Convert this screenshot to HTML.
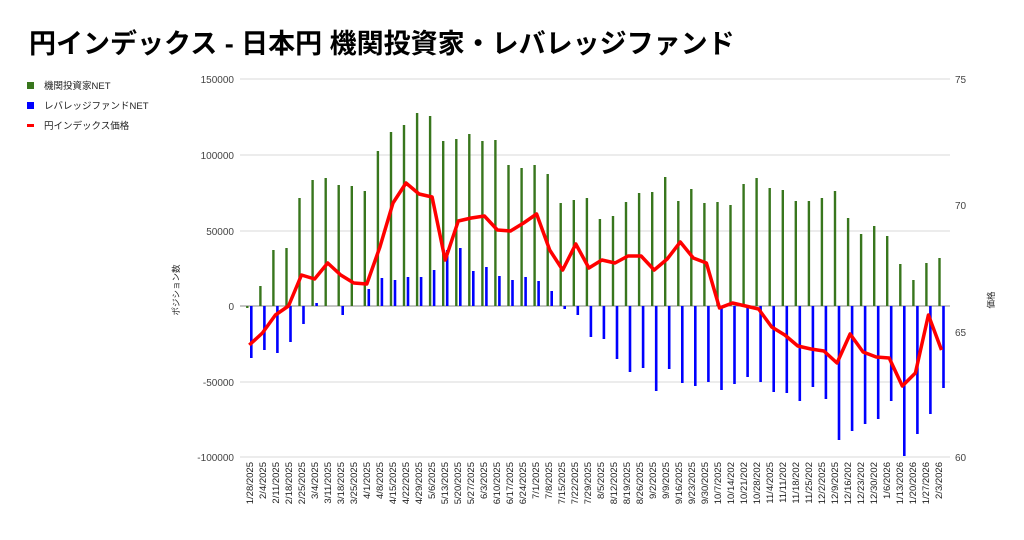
<!DOCTYPE html>
<html><head><meta charset="utf-8"><style>
html,body{margin:0;padding:0;background:#fff;}
svg{display:block;font-family:"Liberation Sans","Noto Sans CJK JP",sans-serif;}
</style></head><body>
<svg width="1024" height="540" viewBox="0 0 1024 540" xmlns="http://www.w3.org/2000/svg">
<rect width="1024" height="540" fill="#fff"/>
<text x="29" y="53" font-size="27" font-weight="bold" fill="#000">円インデックス - 日本円 機関投資家・レバレッジファンド</text>
<rect x="27" y="82" width="7" height="7" fill="#38761d"/>
<text x="44" y="89" font-size="9.5" fill="#222">機関投資家NET</text>
<rect x="27" y="102" width="7" height="7" fill="#0000ff"/>
<text x="44" y="109" font-size="9.5" fill="#222">レバレッジファンドNET</text>
<rect x="27" y="124" width="7" height="3" fill="#ff0000"/>
<text x="44" y="129" font-size="9.5" fill="#222">円インデックス価格</text>
<g stroke="#d9d9d9" stroke-width="1">
<line x1="240" y1="79" x2="950" y2="79"/><line x1="240" y1="155" x2="950" y2="155"/>
<line x1="240" y1="231" x2="950" y2="231"/><line x1="240" y1="382" x2="950" y2="382"/>
<line x1="240" y1="457" x2="950" y2="457"/>
</g>
<line x1="240" y1="306" x2="950" y2="306" stroke="#888" stroke-width="1"/>
<g font-size="10" fill="#444" text-anchor="end">
<text x="234" y="83">150000</text><text x="234" y="159">100000</text><text x="234" y="235">50000</text>
<text x="234" y="310">0</text><text x="234" y="386">-50000</text><text x="234" y="461">-100000</text>
</g>
<g font-size="10" fill="#444">
<text x="955" y="83">75</text><text x="955" y="209">70</text><text x="955" y="336">65</text><text x="955" y="461">60</text>
</g>
<text transform="translate(179,290) rotate(-90)" font-size="8.5" fill="#222" text-anchor="middle">ポジション数</text>
<text transform="translate(994,300) rotate(-90)" font-size="8.5" fill="#222" text-anchor="middle">価格</text>
<path fill="none" stroke="#38761d" stroke-width="2.4" d="M247.3 306V308M260.4 306V286M273.4 306V250M286.5 306V248M299.5 306V198M312.6 306V180M325.7 306V178M338.7 306V185M351.8 306V186M364.8 306V191M377.9 306V151M391 306V132M404 306V125M417.1 306V113M430.1 306V116M443.2 306V141M456.3 306V139M469.3 306V134M482.4 306V141M495.4 306V140M508.5 306V165M521.6 306V168M534.6 306V165M547.7 306V174M560.7 306V203M573.8 306V200M586.9 306V198M599.9 306V219M613 306V216M626 306V202M639.1 306V193M652.2 306V192M665.2 306V177M678.3 306V201M691.3 306V189M704.4 306V203M717.5 306V202M730.5 306V205M743.6 306V184M756.6 306V178M769.7 306V188M782.8 306V190M795.8 306V201M808.9 306V201M821.9 306V198M835 306V191M848.1 306V218M861.1 306V234M874.2 306V226M887.2 306V236M900.3 306V264M913.4 306V280M926.4 306V263M939.5 306V258"/>
<path fill="none" stroke="#0000ff" stroke-width="2.6" d="M251.3 306V358M264.4 306V350M277.4 306V353M290.5 306V342M303.5 306V324M316.6 306V303M342.7 306V315M368.8 306V289M381.9 306V278M395 306V280M408 306V277M421.1 306V277M434.1 306V270M447.2 306V250M460.3 306V248M473.3 306V271M486.4 306V267M499.4 306V276M512.5 306V280M525.6 306V277M538.6 306V281M551.7 306V291M564.7 306V309M577.8 306V315M590.9 306V337M603.9 306V339M617 306V359M630 306V372M643.1 306V368M656.2 306V391M669.2 306V369M682.3 306V383M695.3 306V386M708.4 306V382M721.5 306V390M734.5 306V384M747.6 306V377M760.6 306V382M773.7 306V392M786.8 306V393M799.8 306V401M812.9 306V387M825.9 306V399M839 306V440M852.1 306V431M865.1 306V424M878.2 306V419M891.2 306V401M904.3 306V456M917.4 306V434M930.4 306V414M943.5 306V388"/>
<polyline fill="none" stroke="#ff0000" stroke-width="3.5" stroke-linejoin="round" points="249.3,345 262.4,333 275.4,315 288.5,306 301.5,275 314.6,279 327.7,263 340.7,275 353.8,283 366.8,284 379.9,247 393,203 406,183 419.1,194 432.1,197 445.2,260 458.3,221 471.3,218 484.4,216 497.4,230 510.5,231 523.6,223 536.6,214 549.7,250 562.7,270 575.8,244 588.9,268 601.9,260 615,263 628,256 641.1,256 654.2,270 667.2,259 680.3,242 693.3,258 706.4,263 719.5,308 732.5,303 745.6,306 758.6,309 771.7,327 784.8,335 797.8,346 810.9,349 823.9,351 837,363 850.1,334 863.1,352 876.2,357 889.2,358 902.3,386 915.4,373 928.4,315 941.5,350"/>
<g font-size="9.5" fill="#222" text-anchor="end">
<text transform="translate(253,462) rotate(-90)">1/28/2025</text>
<text transform="translate(266,462) rotate(-90)">2/4/2025</text>
<text transform="translate(279,462) rotate(-90)">2/11/2025</text>
<text transform="translate(292,462) rotate(-90)">2/18/2025</text>
<text transform="translate(305,462) rotate(-90)">2/25/2025</text>
<text transform="translate(318,462) rotate(-90)">3/4/2025</text>
<text transform="translate(331,462) rotate(-90)">3/11/2025</text>
<text transform="translate(344,462) rotate(-90)">3/18/2025</text>
<text transform="translate(357,462) rotate(-90)">3/25/2025</text>
<text transform="translate(370,462) rotate(-90)">4/1/2025</text>
<text transform="translate(383,462) rotate(-90)">4/8/2025</text>
<text transform="translate(396,462) rotate(-90)">4/15/2025</text>
<text transform="translate(409,462) rotate(-90)">4/22/2025</text>
<text transform="translate(422,462) rotate(-90)">4/29/2025</text>
<text transform="translate(435,462) rotate(-90)">5/6/2025</text>
<text transform="translate(448,462) rotate(-90)">5/13/2025</text>
<text transform="translate(461,462) rotate(-90)">5/20/2025</text>
<text transform="translate(474,462) rotate(-90)">5/27/2025</text>
<text transform="translate(487,462) rotate(-90)">6/3/2025</text>
<text transform="translate(500,462) rotate(-90)">6/10/2025</text>
<text transform="translate(513,462) rotate(-90)">6/17/2025</text>
<text transform="translate(526,462) rotate(-90)">6/24/2025</text>
<text transform="translate(539,462) rotate(-90)">7/1/2025</text>
<text transform="translate(552,462) rotate(-90)">7/8/2025</text>
<text transform="translate(565,462) rotate(-90)">7/15/2025</text>
<text transform="translate(578,462) rotate(-90)">7/22/2025</text>
<text transform="translate(591,462) rotate(-90)">7/29/2025</text>
<text transform="translate(604,462) rotate(-90)">8/5/2025</text>
<text transform="translate(617,462) rotate(-90)">8/12/2025</text>
<text transform="translate(630,462) rotate(-90)">8/19/2025</text>
<text transform="translate(643,462) rotate(-90)">8/26/2025</text>
<text transform="translate(656,462) rotate(-90)">9/2/2025</text>
<text transform="translate(669,462) rotate(-90)">9/9/2025</text>
<text transform="translate(682,462) rotate(-90)">9/16/2025</text>
<text transform="translate(695,462) rotate(-90)">9/23/2025</text>
<text transform="translate(708,462) rotate(-90)">9/30/2025</text>
<text transform="translate(721,462) rotate(-90)">10/7/2025</text>
<text transform="translate(734,462) rotate(-90)">10/14/202</text>
<text transform="translate(747,462) rotate(-90)">10/21/202</text>
<text transform="translate(760,462) rotate(-90)">10/28/202</text>
<text transform="translate(773,462) rotate(-90)">11/4/2025</text>
<text transform="translate(786,462) rotate(-90)">11/11/202</text>
<text transform="translate(799,462) rotate(-90)">11/18/202</text>
<text transform="translate(812,462) rotate(-90)">11/25/202</text>
<text transform="translate(825,462) rotate(-90)">12/2/2025</text>
<text transform="translate(838,462) rotate(-90)">12/9/2025</text>
<text transform="translate(851,462) rotate(-90)">12/16/202</text>
<text transform="translate(864,462) rotate(-90)">12/23/202</text>
<text transform="translate(877,462) rotate(-90)">12/30/202</text>
<text transform="translate(890,462) rotate(-90)">1/6/2026</text>
<text transform="translate(903,462) rotate(-90)">1/13/2026</text>
<text transform="translate(916,462) rotate(-90)">1/20/2026</text>
<text transform="translate(929,462) rotate(-90)">1/27/2026</text>
<text transform="translate(942,462) rotate(-90)">2/3/2026</text>
</g>
</svg>
</body></html>
